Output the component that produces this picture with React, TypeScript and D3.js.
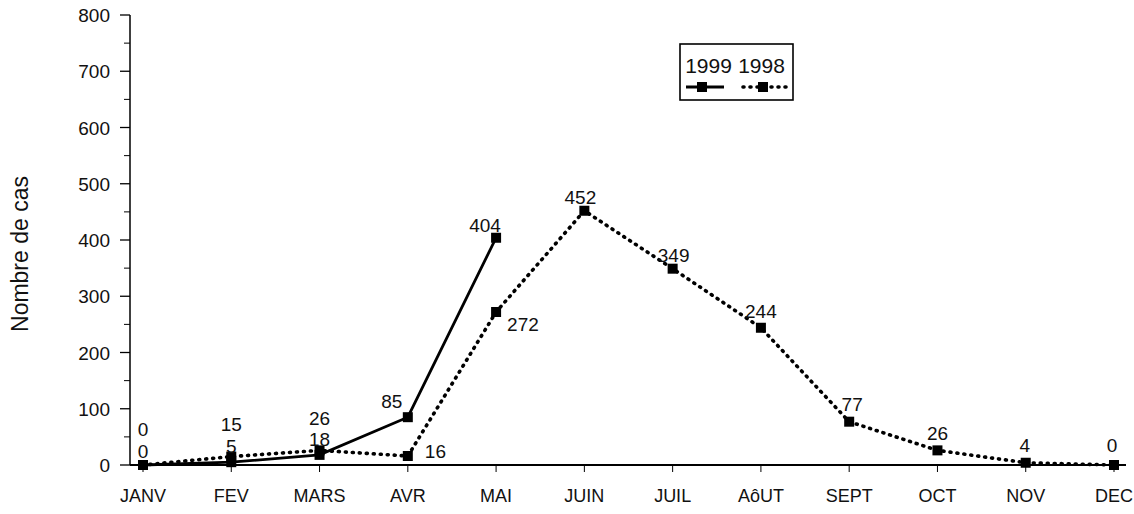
import React from "react";
import * as d3 from "d3";

const months = ["JANV", "FEV", "MARS", "AVR", "MAI", "JUIN", "JUIL", "AôUT", "SEPT", "OCT", "NOV", "DEC"];
const cases1999 = [0, 5, 18, 85, 404];
const cases1998 = [0, 15, 26, 16, 272, 452, 349, 244, 77, 26, 4, 0];
const yTicks = [0, 100, 200, 300, 400, 500, 600, 700, 800];
const yMinorTicks = [50, 150, 250, 350, 450, 550, 650, 750];

// label placement (dx, dy from the marker, text anchor)
const place1999: [number, number, string][] = [
  [0, -7, "middle"], [0, -9, "middle"], [0, -9, "middle"], [-16, -9, "middle"], [-11, -6, "middle"],
];
const place1998: [number, number, string][] = [
  [0, -29, "middle"], [0, -26, "middle"], [0, -25, "middle"], [17, 2, "start"], [11, 19, "start"],
  [-4, -7, "middle"], [1, -7, "middle"], [0, -10, "middle"], [3, -11, "middle"], [0, -10, "middle"], [-1, -11, "middle"], [-2, -13, "middle"],
];

const FONT = "'Liberation Sans', Arial, Helvetica, sans-serif";

export default function App() {
  const W = 1134, H = 514;
  const x = d3.scalePoint<string>().domain(months).range([143, 1114]);
  const y = d3.scaleLinear().domain([0, 800]).range([465, 15]);
  const line = d3.line<number>().x((_, i) => x(months[i])!).y((d) => y(d));
  const ms = 10;

  return (
    <svg width={W} height={H} style={{ position: "absolute", left: 0, top: 0, background: "#fff" }} fontFamily={FONT}>
      <rect width={W} height={H} fill="#fff" />
      {/* axes */}
      <line x1={130} x2={130} y1={y(800)} y2={y(0)} stroke="#000" strokeWidth={1.5} />
      <line x1={130} x2={1126} y1={y(0)} y2={y(0)} stroke="#000" strokeWidth={2} />
      {yTicks.map((t) => (
        <g key={t}>
          <line x1={120} x2={130} y1={y(t)} y2={y(t)} stroke="#000" strokeWidth={1.3} />
          <text x={110} y={y(t) + 7} textAnchor="end" fontSize={19} fill="#111">{t}</text>
        </g>
      ))}
      {yMinorTicks.map((t) => (
        <line key={t} x1={124} x2={130} y1={y(t)} y2={y(t)} stroke="#000" strokeWidth={1} />
      ))}
      {months.map((m) => (
        <g key={m}>
          <line x1={x(m)} x2={x(m)} y1={y(0)} y2={y(0) + 7} stroke="#000" strokeWidth={1} />
          <text x={x(m)} y={502} textAnchor="middle" fontSize={18} fill="#111">{m}</text>
        </g>
      ))}
      <text transform={`translate(28,${254}) rotate(-90)`} textAnchor="middle" fontSize={23} fill="#111">Nombre de cas</text>

      {/* 1998 dotted */}
      <path d={line(cases1998)!} fill="none" stroke="#000" strokeWidth={3.6} strokeDasharray="1,6" strokeLinecap="round" />
      {cases1998.map((v, i) => (
        <rect key={"b" + i} x={x(months[i])! - ms / 2} y={y(v) - ms / 2} width={ms} height={ms} fill="#000" />
      ))}
      {/* 1999 solid */}
      <path d={line(cases1999)!} fill="none" stroke="#000" strokeWidth={2.8} />
      {cases1999.map((v, i) => (
        <rect key={"a" + i} x={x(months[i])! - ms / 2} y={y(v) - ms / 2} width={ms} height={ms} fill="#000" />
      ))}

      {/* labels */}
      {cases1999.map((v, i) => (
        <text key={"la" + i} x={x(months[i])! + place1999[i][0]} y={y(v) + place1999[i][1]} textAnchor={place1999[i][2] as any} fontSize={19} fill="#111">{v}</text>
      ))}
      {cases1998.map((v, i) => (
        <text key={"lb" + i} x={x(months[i])! + place1998[i][0]} y={y(v) + place1998[i][1]} textAnchor={place1998[i][2] as any} fontSize={19} fill="#111">{v}</text>
      ))}

      {/* legend */}
      <rect x={680} y={44} width={113} height={56} fill="#fff" stroke="#000" strokeWidth={1.6} />
      <text x={708.5} y={73} textAnchor="middle" fontSize={21} fill="#111">1999</text>
      <text x={761.5} y={73} textAnchor="middle" fontSize={21} fill="#111">1998</text>
      <line x1={686} x2={724} y1={87} y2={87} stroke="#000" strokeWidth={3} />
      <rect x={702 - 5} y={82} width={10} height={10} fill="#000" />
      <line x1={743} x2={786} y1={87} y2={87} stroke="#000" strokeWidth={3.6} strokeDasharray="1,6" strokeLinecap="round" />
      <rect x={763 - 5} y={82} width={10} height={10} fill="#000" />
    </svg>
  );
}
